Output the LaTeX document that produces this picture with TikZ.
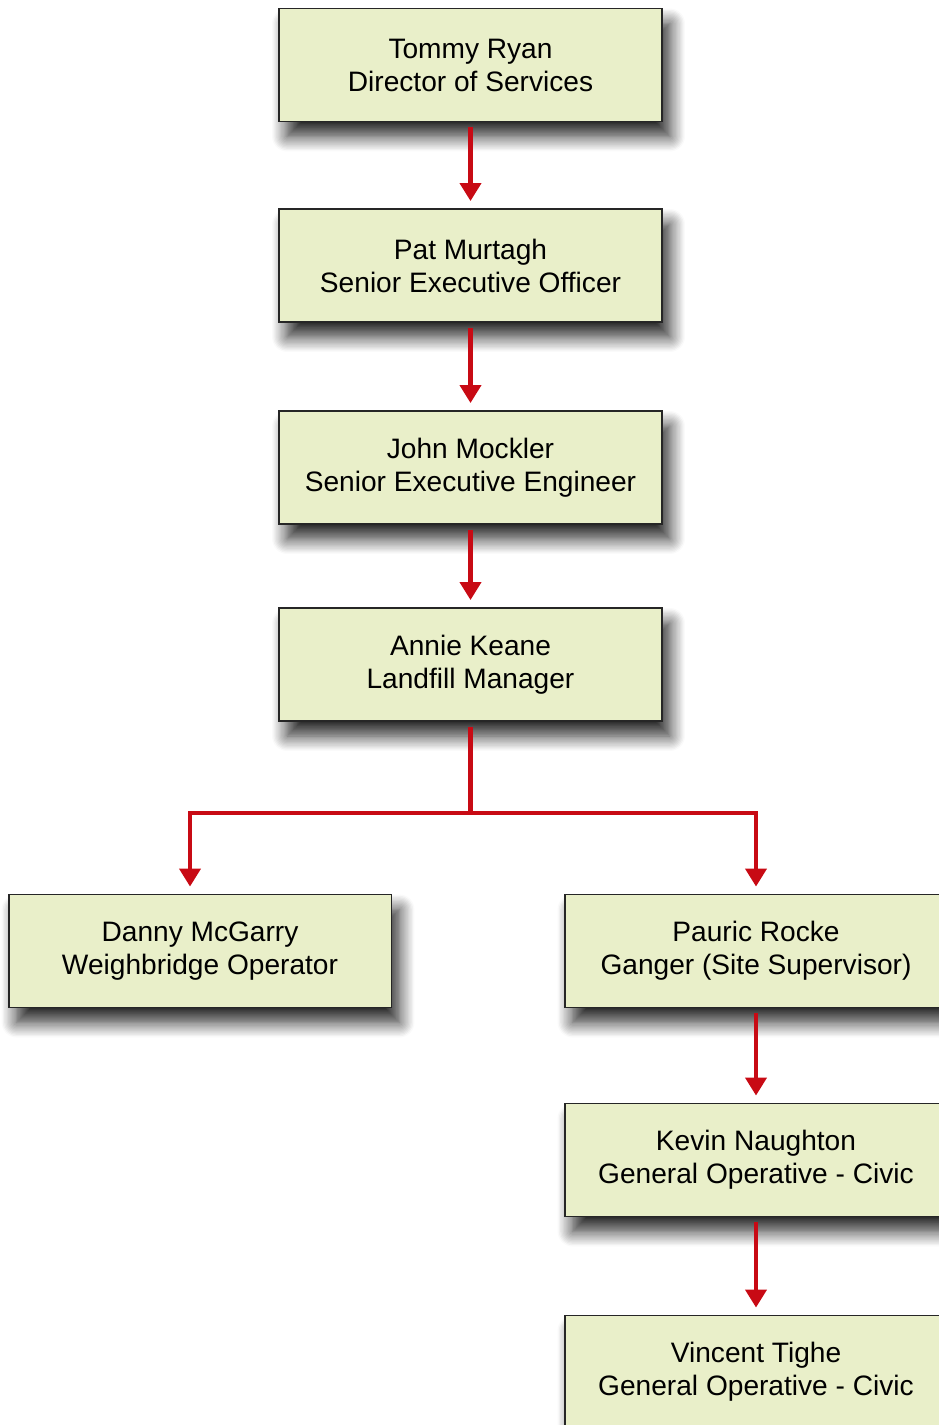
\documentclass[tikz,border=0pt]{standalone}
\usepackage{fontspec}
\setmainfont{Liberation Sans}
\usetikzlibrary{arrows.meta,positioning,shadows.blur}

\definecolor{boxfill}{RGB}{233,239,201}
\definecolor{arrred}{RGB}{200,10,20}

\begin{document}
\begin{tikzpicture}[
  x=0.02cm, y=-0.02cm,
  box/.style={rectangle, draw=black!85, line width=1.1pt, fill=boxfill, minimum width=7.66cm, minimum height=2.26cm, align=center, font=\fontsize{16}{18.8}\selectfont,
    blur shadow={shadow xshift=0.16cm, shadow yshift=-0.3cm, shadow blur radius=0.3cm, shadow blur steps=12, shadow opacity=85}},
  arr/.style={-{Triangle[width=0.42cm, length=0.36cm]}, line width=2.3pt, draw=arrred, shorten >=0.14cm, shorten <=0.1cm}
]
\useasboundingbox (0,0) rectangle (938,1425);
\node[box] (ryan) at (470.5,65) {Tommy Ryan\\Director of Services};
\node[box] (murtagh) at (470.5,265.5) {Pat Murtagh\\Senior Executive Officer};
\node[box] (mockler) at (470.5,467.5) {John Mockler\\Senior Executive Engineer};
\node[box] (keane) at (470.5,664.5) {Annie Keane\\Landfill Manager};
\node[box] (mcgarry) at (200,951) {Danny McGarry\\Weighbridge Operator};
\node[box] (rocke) at (756,951) {Pauric Rocke\\Ganger (Site Supervisor)};
\node[box] (naughton) at (756,1160) {Kevin Naughton\\General Operative - Civic};
\node[box] (tighe) at (756,1372) {Vincent Tighe\\General Operative - Civic};
\coordinate (split) at (keane.south |- 0,813);

\draw[arr] (ryan) -- (murtagh);
\draw[arr] (murtagh) -- (mockler);
\draw[arr] (mockler) -- (keane);
\draw[arrred, line width=2.3pt, shorten <=0.1cm] (keane.south) -- (split);
\draw[arr, shorten <=0pt] (split) -| ([xshift=-0.2cm]mcgarry.north);
\draw[arr, shorten <=0pt] (split) -| (rocke.north);
\draw[arr] (rocke) -- (naughton);
\draw[arr] (naughton) -- (tighe);
\end{tikzpicture}
\end{document}
